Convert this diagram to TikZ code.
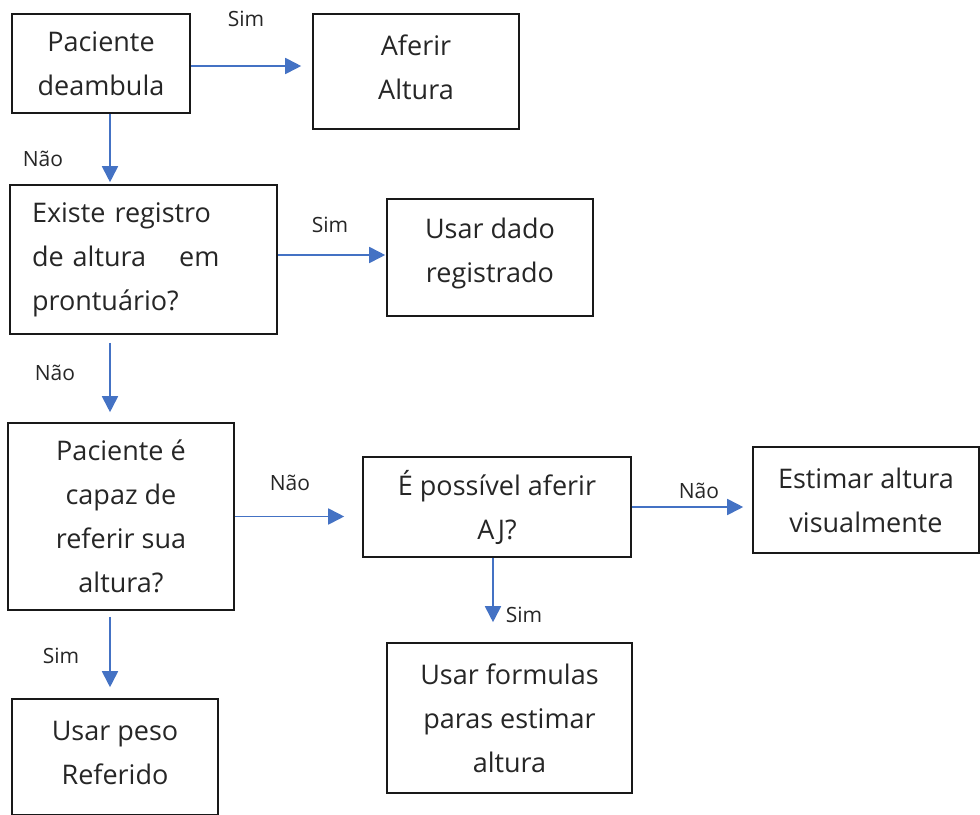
\documentclass[tikz,border=0pt]{standalone}
\usepackage{fontspec}
\setmainfont{Open Sans}
\usetikzlibrary{arrows.meta}
\definecolor{setaazul}{HTML}{4472C4}
\begin{document}
\begin{tikzpicture}[x=1pt, y=-1pt,
  caixa/.style={draw=black!90, line width=1.6pt, text=black!85, align=center,
    font=\fontsize{27}{44}\selectfont, inner sep=0pt},
  rotulo/.style={text=black!85, font=\fontsize{21}{24}\selectfont, anchor=base, inner sep=0pt},
  seta/.style={draw=setaazul, line width=1.8pt, -{Triangle[length=16pt,width=16pt]}}]
  % Page frame (the last box runs off the bottom)
  \clip (0,0) rectangle (980,814);
  \fill[white] (0,0) rectangle (980,814);

  % Boxes
  \node[caixa, minimum width=178pt, minimum height=99pt] (deamb) at (101,63.5) {Paciente\\deambula};
  \node[caixa, minimum width=206pt, minimum height=115pt, text depth=8pt] (aferir) at (416,71.5) {Aferir\\Altura};
  \node[caixa, minimum width=267pt, minimum height=149pt, text width=223pt, align=left] (registro) at (143.5,259.5)
    {Existe registro\\de altura\hspace{24pt} em\\prontuário?};
  \node[caixa, minimum width=206pt, minimum height=117pt, text depth=14pt] (dado) at (490,257.5) {Usar dado\\registrado};
  \node[caixa, minimum width=226pt, minimum height=187pt] (capaz) at (121,516.5)
    {Paciente é\\capaz de\\referir sua\\altura?};
  \node[caixa, minimum width=268pt, minimum height=100pt] (aj) at (497,507) {É possível aferir\\AJ?};
  \node[caixa, minimum width=226pt, minimum height=106pt] (visual) at (866,500) {Estimar altura\\visualmente};
  \node[caixa, minimum width=245pt, minimum height=150pt] (formulas) at (509.5,718)
    {Usar formulas\\paras estimar\\altura};
  \node[caixa, minimum width=206pt, minimum height=116pt, text depth=8pt] (peso) at (115,757) {Usar peso\\Referido};

  % Arrow start points
  \coordinate (s1) at ([yshift=-2.5pt]deamb.east);
  \coordinate (s2) at ([xshift=9pt]deamb.south);
  \coordinate (s3) at ([yshift=4.5pt]registro.east);
  \coordinate (s4) at ([shift={(-33.5,8)}]registro.south);
  \coordinate (s7) at ([xshift=-4pt]aj.south);
  \coordinate (s8) at ([shift={(-11,6)}]capaz.south);

  % Arrows
  \draw[seta, shorten >=11pt] (s1) -- (s1 -| aferir.west);
  \draw[seta, shorten >=2pt] (s2) -- (s2 |- registro.north);
  \draw[seta, shorten >=1pt] (s3) -- (s3 -| dado.west);
  \draw[seta, shorten >=10pt] (s4) -- (s4 |- capaz.north);
  \draw[seta, shorten >=18pt] (capaz.east) -- (capaz.east -| aj.west);
  \draw[seta, shorten >=9pt] (aj.east) -- (aj.east -| visual.west);
  \draw[seta, shorten >=20pt] (s7) -- (s7 |- formulas.north);
  \draw[seta, shorten >=11pt] (s8) -- (s8 |- peso.north);

  % Labels
  \node[rotulo] (sim1) at (246,26) {Sim};
  \node[rotulo] (nao1) at (43,166) {Não};
  \node[rotulo] (sim2) at (330,232) {Sim};
  \node[rotulo] (nao2) at (55,380) {Não};
  \node[rotulo] (nao3) at (290,490) {Não};
  \node[rotulo] (nao4) at (699,498) {Não};
  \node[rotulo] (sim3) at (524,622) {Sim};
  \node[rotulo] (sim4) at (61,663) {Sim};
\end{tikzpicture}
\end{document}
